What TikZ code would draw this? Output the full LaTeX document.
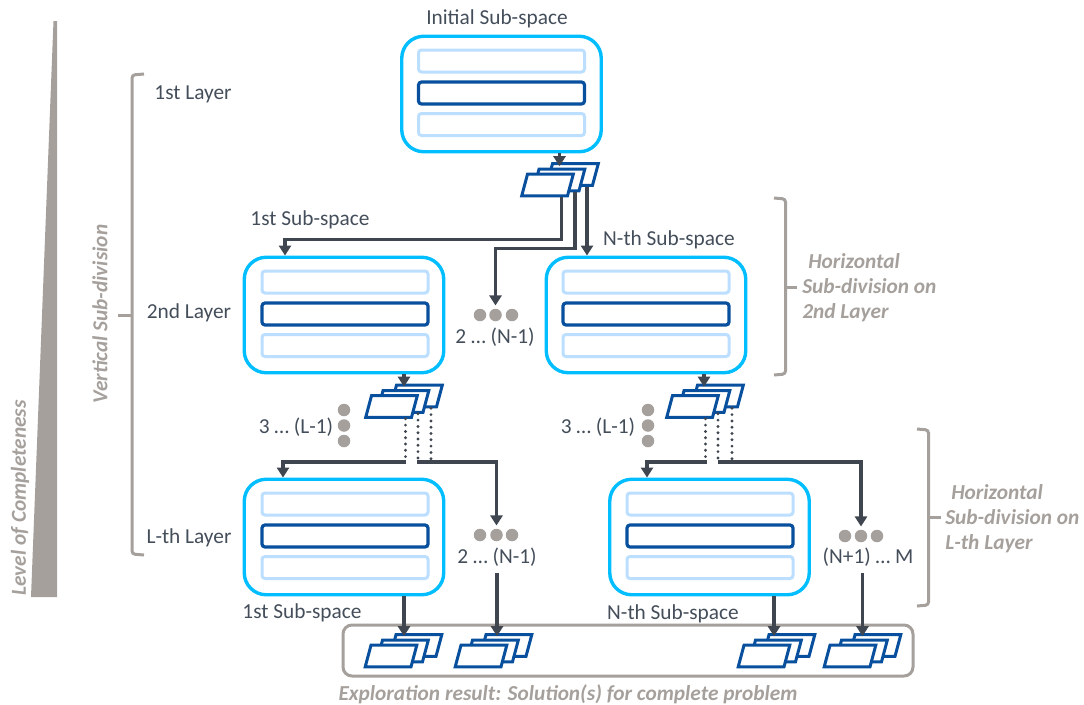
\documentclass[tikz,border=0pt]{standalone}
\usepackage{fontspec}
\setmainfont{Carlito}
\usetikzlibrary{arrows.meta,shapes.geometric}
\newlength{\du}
\setlength{\du}{0.75pt}
\definecolor{spaceblue}{RGB}{0,190,255}
\definecolor{barblue}{RGB}{188,222,255}
\definecolor{deepblue}{RGB}{8,80,158}
\definecolor{wiregray}{RGB}{64,70,80}
\definecolor{notegray}{RGB}{165,160,156}
\definecolor{textgray}{RGB}{68,78,90}
\tikzset{
  spacebox/.style={draw=spaceblue,line width=3.4\du,rounded corners=22\du,fill=white,inner sep=0pt,minimum width=199.5\du,minimum height=115.5\du},
  lightbar/.style={draw=barblue,line width=3\du,rounded corners=3\du,inner sep=0pt,minimum width=166\du,minimum height=22\du},
  darkbar/.style={draw=deepblue,line width=3.2\du,rounded corners=3\du,inner sep=0pt,minimum width=166\du,minimum height=22\du},
  slab/.style={draw=deepblue,fill=white,line width=3\du,trapezium,trapezium left angle=75,trapezium right angle=105,inner xsep=20\du,inner ysep=10.8\du},
  wire/.style={draw=wiregray,line width=3.2\du,-{Triangle[width=9pt,length=7.5pt]}},
  dotwire/.style={draw=wiregray,line width=3.2\du,line cap=round,dash pattern=on 0pt off 6.3\du},
  brace/.style={draw=notegray,line width=3\du,rounded corners=3\du},
  dotmark/.style={circle,fill=notegray,inner sep=0pt,minimum size=12.5\du},
  lbl/.style={text=textgray,font=\fontsize{16}{18}\selectfont,inner sep=1\du},
  note/.style={text=notegray,font=\fontsize{16}{18.75}\selectfont\bfseries\itshape,inner sep=0pt,align=left},
  sidenote/.style={text=notegray,font=\fontsize{16}{18}\selectfont\itshape\bfseries,inner sep=0pt,rotate=90},
}

\begin{document}
\begin{tikzpicture}[x=\du,y=-\du]
\useasboundingbox (0,0) rectangle (1084,704);

% level wedge
\path[fill=notegray] (53.5,21)--(57,21)--(57,597)--(31,597)--cycle;
\node[sidenote] (levelnote) at (20,498) {Level of Completeness};
\node[sidenote] (vertnote) at (100,314) {Vertical Sub-division};

% brackets
\draw[brace] (144,74)--(132,75)--(132,554)--(144,555);
\draw[brace,rounded corners=0pt] (118,315)--(132,315);
\draw[brace] (774,198)--(785.5,199)--(785.5,374)--(774,375);
\draw[brace,rounded corners=0pt] (785.5,287)--(797,287);
\draw[brace] (917,429)--(928.5,430)--(928.5,605)--(917,606);
\draw[brace,rounded corners=0pt] (928.5,517.5)--(941,517.5);

% sub-space boxes
\node[spacebox] (boxtop) at (501.5,94) {};
\node[lightbar] (bartopa) at (501.5,61) {};
\node[darkbar] (bartopb) at (501.5,93) {};
\node[lightbar] (bartopc) at (501.5,124.5) {};
\node[spacebox] (boxmidl) at (344,315) {};
\node[lightbar] (barmidla) at (345,282) {};
\node[darkbar] (barmidlb) at (345,314) {};
\node[lightbar] (barmidlc) at (345,345.5) {};
\node[spacebox] (boxmidr) at (646,315) {};
\node[lightbar] (barmidra) at (646,282) {};
\node[darkbar] (barmidrb) at (646,314) {};
\node[lightbar] (barmidrc) at (646,345.5) {};
\node[spacebox] (boxlowl) at (344,537) {};
\node[lightbar] (barlowla) at (345,504) {};
\node[darkbar] (barlowlb) at (345,536) {};
\node[lightbar] (barlowlc) at (345,567.5) {};
\node[spacebox] (boxlowr) at (709.5,537) {};
\node[lightbar] (barlowra) at (710,504) {};
\node[darkbar] (barlowrb) at (710,536) {};
\node[lightbar] (barlowrc) at (710,567.5) {};

% result frame
\draw[draw=notegray,line width=3\du,rounded corners=9\du] (343,625) rectangle (913,676);

% stacks of slabs
\node[slab] (topc) at (572.5,174.5) {};
\node[slab] (topb) at (559,180) {};
\node[slab] (topa) at (547.5,185) {};
\node[slab] (midlc) at (416.5,396) {};
\node[slab] (midlb) at (403,401.5) {};
\node[slab] (midla) at (391.5,406.5) {};
\node[slab] (midrc) at (717.5,396) {};
\node[slab] (midrb) at (704,401.5) {};
\node[slab] (midra) at (692.5,406.5) {};
\node[slab] (resac) at (416,645.5) {};
\node[slab] (resab) at (402.5,651) {};
\node[slab] (resaa) at (391,656) {};
\node[slab] (resbc) at (506,645.5) {};
\node[slab] (resbb) at (492.5,651) {};
\node[slab] (resba) at (481,656) {};
\node[slab] (rescc) at (789,645.5) {};
\node[slab] (rescb) at (775.5,651) {};
\node[slab] (resca) at (764,656) {};
\node[slab] (resdc) at (875,645.5) {};
\node[slab] (resdb) at (861.5,651) {};
\node[slab] (resda) at (850,656) {};

% dots
\node[dotmark] (dotaa) at (480,315) {};
\node[dotmark] (dotab) at (495.5,315) {};
\node[dotmark] (dotac) at (512,315) {};
\node[dotmark] (dotba) at (480,535) {};
\node[dotmark] (dotbb) at (496.5,535) {};
\node[dotmark] (dotbc) at (512,535) {};
\node[dotmark] (dotca) at (845,536) {};
\node[dotmark] (dotcb) at (861,536) {};
\node[dotmark] (dotcc) at (877,536) {};
\node[dotmark] (dotda) at (344,410) {};
\node[dotmark] (dotdb) at (344,425.5) {};
\node[dotmark] (dotdc) at (344,441) {};
\node[dotmark] (dotea) at (648,410) {};
\node[dotmark] (doteb) at (648,425.5) {};
\node[dotmark] (dotec) at (648,441) {};

% labels
\node[lbl] (initlbl) at (497,18.5) {Initial Sub-space};
\node[lbl] (layera) at (193,94.5) {1st Layer};
\node[lbl] (layerb) at (189,312.5) {2nd Layer};
\node[lbl] (layerl) at (189,537.5) {L-th Layer};
\node[lbl] (firstlbl) at (310,219.5) {1st Sub-space};
\node[lbl] (nthlbl) at (669,239.5) {N-th Sub-space};
\node[lbl] (rangea) at (495,337.5) {2 … (N-1)};
\node[lbl] (rangeb) at (497,557.5) {2 … (N-1)};
\node[lbl] (rangec) at (868,557.5) {(N+1) … M};
\node[lbl] (ranged) at (296,427.5) {3 … (L-1)};
\node[lbl] (rangee) at (598,427.5) {3 … (L-1)};
\node[lbl] (firstlow) at (302,612.5) {1st Sub-space};
\node[lbl] (nthlow) at (673,613.5) {N-th Sub-space};
\node[note,anchor=west] (horizb) at (802,288) {\hspace{6\du}Horizontal\\Sub-division on\\2nd Layer};
\node[note,anchor=west] (horizl) at (945,518.5) {\hspace{6\du}Horizontal\\Sub-division on\\L-th Layer};
\node[note] (resnote) at (568,694) {Exploration result: Solution(s) for complete problem};

% free ends
\coordinate (forklL) at (406,462);
\coordinate (forklR) at (417,462);
\coordinate (forkrL) at (707,462);
\coordinate (forkrR) at (718,462);
\coordinate (tapb) at (497,573);
\coordinate (tapd) at (862.5,573);

% connectors
\draw[wire] ([xshift=58\du]boxtop.south)--([xshift=-13\du,yshift=-4\du]topc.north);
\draw[wire] ([xshift=14\du]topa.south)--++(0,42)-|([xshift=-59\du]boxmidl.north);
\draw[wire,shorten >=3\du] ([xshift=16\du]topb.south)--++(0,56)-|(dotab.north);
\draw[wire] ([xshift=14.5\du]topc.south)--([xshift=-59\du]boxmidr.north);

\draw[wire] ([xshift=60\du]boxmidl.south)--([xshift=-12.5\du,yshift=-3\du]midlc.north);
\draw[dotwire] ([xshift=14\du]midla.south)--++(0,40);
\draw[dotwire] ([xshift=15\du]midlb.south)--++(0,46);
\draw[dotwire] ([xshift=14.5\du]midlc.south)--++(0,51);
\draw[wire] (forklL)-|([xshift=-61\du]boxlowl.north);
\draw[wire,shorten >=3\du] (forklR)-|(dotbb.north);

\draw[wire] ([xshift=58\du]boxmidr.south)--([xshift=-13.5\du,yshift=-3\du]midrc.north);
\draw[dotwire] ([xshift=13\du]midra.south)--++(0,40);
\draw[dotwire] ([xshift=14\du]midrb.south)--++(0,46);
\draw[dotwire] ([xshift=14.5\du]midrc.south)--++(0,51);
\draw[wire] (forkrL)-|([xshift=-62.5\du]boxlowr.north);
\draw[wire,shorten >=3\du] (forkrR)-|(dotcb.north);

\draw[wire] ([xshift=60\du]boxlowl.south)--([xshift=-12\du,yshift=-3\du]resac.north);
\draw[wire] (tapb)--([xshift=-9\du,yshift=-3\du]resbc.north);
\draw[wire] ([xshift=64.5\du]boxlowr.south)--([xshift=-15\du,yshift=-3\du]rescc.north);
\draw[wire] (tapd)--([xshift=-12.5\du,yshift=-3\du]resdc.north);
\end{tikzpicture}
\end{document}
